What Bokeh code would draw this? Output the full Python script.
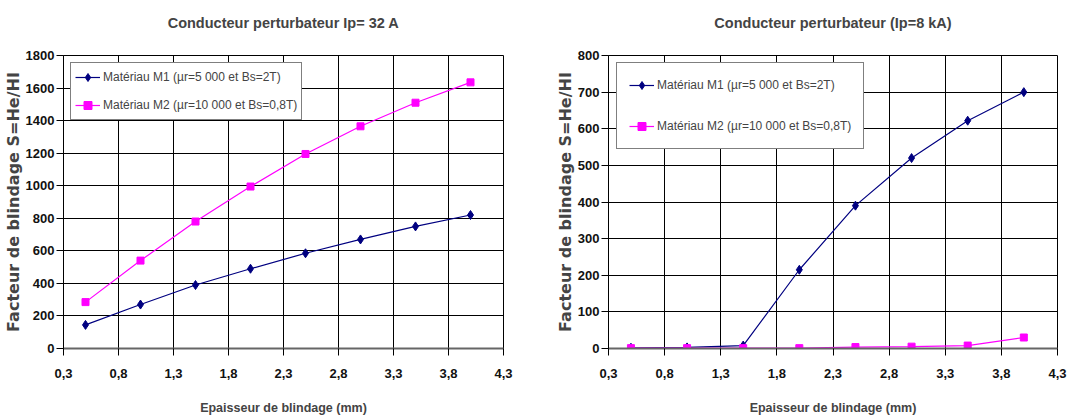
from bokeh.plotting import figure
from bokeh.layouts import row
from bokeh.models import FixedTicker, Legend, LegendItem
from bokeh.embed import file_html
from bokeh.resources import INLINE

x_mm = [0.5, 1.0, 1.5, 2.0, 2.5, 3.0, 3.5, 4.0]
m1_32A = [145, 270, 390, 490, 585, 670, 750, 820]
m2_32A = [285, 540, 780, 995, 1195, 1365, 1510, 1635]
m1_8kA = [2, 3, 8, 215, 390, 520, 622, 700]
m2_8kA = [1, 1, 1, 1, 4, 5, 8, 30]
x_ticks = [0.3, 0.8, 1.3, 1.8, 2.3, 2.8, 3.3, 3.8, 4.3]
label_m1 = "Matériau M1 (µr=5 000 et Bs=2T)"
label_m2 = "Matériau M2 (µr=10 000 et Bs=0,8T)"

FONT = "'Liberation Sans Narrow', 'Liberation Sans', Arial, sans-serif"
C1 = "#000080"
C2 = "#FF00FF"


def make(title, m1, m2, ymax, ystep, w, bl, br, leg_loc, leg_pad, leg_spacing):
    p = figure(width=w, height=419, x_range=(0.3, 4.3), y_range=(0, ymax),
               output_backend="svg", toolbar_location=None,
               min_border_left=bl, min_border_right=br, min_border_top=55,
               min_border_bottom=71)
    p.title.text = title + "\n "
    p.title.align = "center"
    p.title.vertical_align = "top"
    p.title.text_font = FONT
    p.title.text_font_size = "14.5px"
    p.title.text_font_style = "bold"
    p.title.standoff = 14
    p.outline_line_color = "black"
    p.background_fill_color = "white"
    p.border_fill_color = "white"

    yt = list(range(0, ymax + 1, ystep))
    p.xaxis.ticker = FixedTicker(ticks=x_ticks)
    p.xaxis.major_label_overrides = {t: ("%.1f" % t).replace(".", ",") for t in x_ticks}
    p.yaxis.ticker = FixedTicker(ticks=yt)
    p.xgrid.ticker = FixedTicker(ticks=x_ticks)
    p.ygrid.ticker = FixedTicker(ticks=yt)
    for g in (p.xgrid, p.ygrid):
        g.grid_line_color = "black"
        g.grid_line_width = 1
    for ax in (p.xaxis, p.yaxis):
        ax.major_label_text_font = FONT
        ax.major_label_text_font_size = "13px"
        ax.major_label_text_font_style = "bold"
        ax.major_label_text_color = "#111111"
        ax.axis_line_color = "black"
        ax.major_tick_line_color = "black"
        ax.major_tick_out = 7
        ax.major_tick_in = 0
        ax.minor_tick_line_color = None
    p.xaxis.axis_line_color = "#666666"
    p.xaxis.axis_line_width = 2
    p.xaxis.major_label_standoff = 13
    p.yaxis.major_label_standoff = 2
    p.xaxis.axis_label = "Epaisseur de blindage (mm)"
    p.xaxis.axis_label_text_font = FONT
    p.xaxis.axis_label_text_font_size = "12.5px"
    p.xaxis.axis_label_text_font_style = "bold"
    p.xaxis.axis_label_standoff = 20
    p.yaxis.axis_label = "Facteur de blindage S=He/HI"
    p.yaxis.axis_label_text_font = "DejaVu Sans"
    p.yaxis.axis_label_text_font_size = "16px"
    p.yaxis.axis_label_text_font_style = "bold"
    p.yaxis.axis_label_standoff = 0

    r1l = p.line(x_mm, m1, line_color=C1, line_width=1.2)
    r1m = p.scatter(x_mm, m1, marker="diamond", size=9, fill_color=C1, line_color=C1)
    r2l = p.line(x_mm, m2, line_color=C2, line_width=1.2)
    r2m = p.scatter(x_mm, m2, marker="square", size=7, fill_color=C2, line_color=C2)

    leg = Legend(items=[LegendItem(label=label_m1, renderers=[r1l, r1m]),
                        LegendItem(label=label_m2, renderers=[r2l, r2m])],
                 location=leg_loc, spacing=leg_spacing, padding=leg_pad, margin=0,
                 border_line_color="black", border_line_width=1.5,
                 background_fill_alpha=1, label_text_font=FONT,
                 label_text_font_size="12px", glyph_width=25,
                 label_standoff=3)
    p.add_layout(leg, "center")
    return p


p1 = make("Conducteur perturbateur Ip= 32 A", m1_32A, m2_32A, 1800, 200,
          545, 60, 42, (7, 228), 4, 8)
p2 = make("Conducteur perturbateur (Ip=8 kA)", m1_8kA, m2_8kA, 800, 100,
          543, 63, 31, (8, 199), 12, 21)

layout = row(p1, p2)
open("out.html", "w").write(file_html(layout, INLINE))
